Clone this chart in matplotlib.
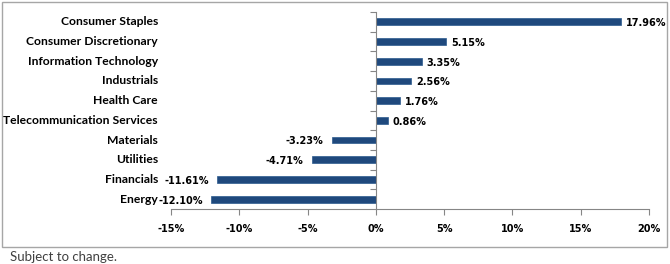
import matplotlib
matplotlib.use("Agg")
import matplotlib.pyplot as plt
from matplotlib.patches import Rectangle
from matplotlib.ticker import FixedLocator

# 数据
sectors = ["Consumer Staples", "Consumer Discretionary", "Information Technology",
           "Industrials", "Health Care", "Telecommunication Services",
           "Materials", "Utilities", "Financials", "Energy"]
returns = [17.96, 5.15, 3.35, 2.56, 1.76, 0.86, -3.23, -4.71, -11.61, -12.10]
xticks = [-15, -10, -5, 0, 5, 10, 15, 20]
note = "Subject to change."

BAR = "#1f497d"
GRID = "#868686"

fig = plt.figure(figsize=(6.7, 2.64), dpi=100)
ax = fig.add_axes([171 / 670, 55 / 264, 478 / 670, 197 / 264])

y = list(range(len(sectors)))
ax.barh(y, returns, height=0.35, color=BAR, edgecolor="#2c5a8e", linewidth=0.5)

ax.set_xlim(-15, 20)
ax.set_ylim(len(sectors) - 0.5, -0.5)

# x 轴
ax.set_xticks(xticks)
ax.set_xticklabels([f"{t}%" for t in xticks], fontsize=7, fontweight="bold",
                   family="DejaVu Sans")
ax.tick_params(axis="x", direction="out", length=4, width=0.8, color=GRID, pad=7)

# 纵轴放在 0 处，刻度在类别边界
ax.spines["left"].set_position(("data", 0))
for s in ("top", "right"):
    ax.spines[s].set_visible(False)
ax.spines["left"].set_color(GRID)
ax.spines["bottom"].set_color(GRID)
ax.yaxis.set_major_locator(FixedLocator([i - 0.5 for i in range(len(sectors))]))
ax.set_yticklabels([])
ax.tick_params(axis="y", direction="out", length=4, width=0.8, color=GRID)

# 类别标签
for yi, name in zip(y, sectors):
    ax.text(-0.027, yi, name, transform=ax.get_yaxis_transform(), ha="right",
            va="center", fontsize=8.7, fontweight="bold", family="Lato")

# 数值标签
for yi, v in zip(y, returns):
    off = 5 if v >= 0 else -8
    ax.annotate(f"{v:.2f}%", (v, yi), xytext=(off * 0.72, -1), textcoords="offset points",
                ha="left" if v >= 0 else "right", va="center",
                fontsize=7, fontweight="bold", family="DejaVu Sans")

fig.add_artist(Rectangle((2 / 670, 17 / 264), 665 / 670, 245 / 264,
                         transform=fig.transFigure, fill=False, ec="#a6a6a6", lw=1))
fig.text(10 / 670, 7 / 264, note, fontsize=9.5, family="Lato", color="#404040",
         va="center", ha="left")

fig.savefig("out.png", dpi=100)
